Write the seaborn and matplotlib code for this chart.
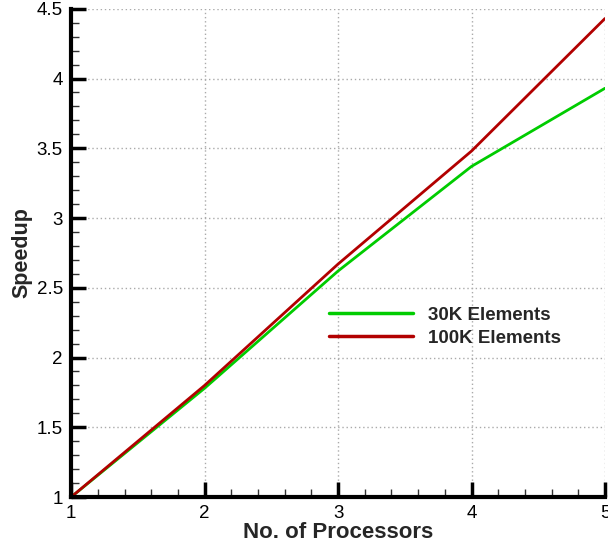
import matplotlib
matplotlib.use("Agg")
import matplotlib.pyplot as plt
import seaborn as sns
import pandas as pd
from matplotlib.ticker import MultipleLocator, FuncFormatter

processors = [1, 2, 3, 4, 5]
speedup_30k = [1.0, 1.78, 2.62, 3.37, 3.93]
speedup_100k = [1.0, 1.80, 2.67, 3.48, 4.43]
series_names = ["30K Elements", "100K Elements"]

df = pd.DataFrame({
    "Processors": processors * 2,
    "Speedup": speedup_30k + speedup_100k,
    "Series": [series_names[0]] * len(processors) + [series_names[1]] * len(processors),
})

sns.set_style("white")
plt.rcParams['font.family'] = ['Liberation Sans', 'DejaVu Sans']

fig = plt.figure(figsize=(6.08, 5.48), dpi=100)
ax = fig.add_axes([0.117, 0.093, 0.878, 0.891])

sns.lineplot(data=df, x="Processors", y="Speedup", hue="Series",
             palette={series_names[0]: "#00cc00", series_names[1]: "#b20000"},
             linewidth=2, ax=ax, legend=True)

ax.set_xlim(1, 5)
ax.set_ylim(1, 4.5)
ax.xaxis.set_major_locator(MultipleLocator(1))
ax.xaxis.set_minor_locator(MultipleLocator(0.2))
ax.yaxis.set_major_locator(MultipleLocator(0.5))
ax.yaxis.set_minor_locator(MultipleLocator(0.1))
ax.xaxis.set_major_formatter(FuncFormatter(lambda v, p: f"{v:g}"))
ax.yaxis.set_major_formatter(FuncFormatter(lambda v, p: f"{v:g}"))

ax.grid(True, which="major", linestyle=(0, (1, 2)), color="#aaaaaa", linewidth=1)
for s in ["top", "right"]:
    ax.spines[s].set_visible(False)
for s in ["left", "bottom"]:
    ax.spines[s].set_linewidth(3)
    ax.spines[s].set_color("black")

ax.tick_params(which="major", direction="in", length=11, width=2.5, labelsize=13.5, pad=6, colors="black")
ax.tick_params(which="minor", direction="in", length=6, width=1, colors="#333333")
ax.tick_params(axis="x", which="both", bottom=True)
ax.tick_params(axis="y", which="both", left=True)

ax.set_xlabel("No. of Processors", fontsize=16, fontweight="bold", labelpad=0)
ax.set_ylabel("Speedup", fontsize=15.5, fontweight="bold", labelpad=3)

leg = ax.legend(loc="center left", bbox_to_anchor=(0.483, 0.349), frameon=False,
                borderpad=0, borderaxespad=0,
                handlelength=4.5, prop={"weight": "bold", "size": 13.5},
                handletextpad=0.8, labelspacing=0.3)
for line in leg.get_lines():
    line.set_linewidth(2.5)

fig.savefig("out.png", dpi=100)
